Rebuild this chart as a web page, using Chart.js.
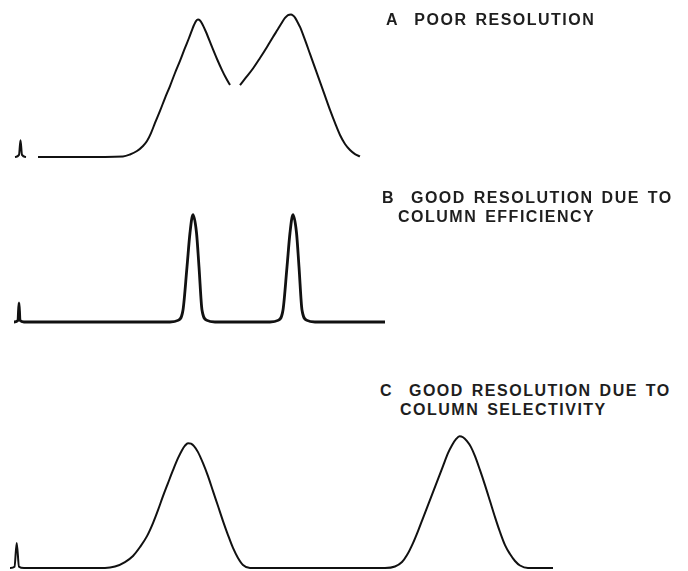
<!DOCTYPE html>
<html>
<head>
<meta charset="utf-8">
<script src="https://cdn.jsdelivr.net/npm/chart.js@4.4.1/dist/chart.umd.min.js"></script>
<style>
  html, body { margin: 0; padding: 0; background: #fff; }
  #wrap { position: relative; width: 688px; height: 571px; overflow: hidden; }
  canvas { position: absolute; left: 0; }
  .label {
    position: absolute;
    font-family: "Liberation Sans", Arial, sans-serif;
    font-weight: bold;
    font-size: 16px;
    letter-spacing: 1.5px;
    word-spacing: 2px;
    color: #1e1e1e;
    white-space: pre;
    line-height: 19px;
  }
</style>
</head>
<body>
<div id="wrap">
  <canvas id="chartA" width="688" height="160" style="top:3px"></canvas>
  <canvas id="chartB" width="688" height="122" style="top:204px"></canvas>
  <canvas id="chartC" width="688" height="148" style="top:423px"></canvas>

  <div class="label" style="left:386px; top:10px">A  POOR RESOLUTION</div>
  <div class="label" style="left:382px; top:188px">B  GOOD RESOLUTION DUE TO</div>
  <div class="label" style="left:398px; top:207px">COLUMN EFFICIENCY</div>
  <div class="label" style="left:380px; top:381px">C  GOOD RESOLUTION DUE TO</div>
  <div class="label" style="left:400px; top:400px">COLUMN SELECTIVITY</div>
</div>

<script>
// Retention time (arbitrary units) and detector signal (% of tallest peak)

// A - poor resolution (the trace breaks at the valley, as in the original)
const timeA = [1.5, 1.9, 2.05, 2.2, 2.6, 3.0,
  3.8, 8.0, 12.3, 13.0, 13.7, 14.3, 14.7, 15.1, 15.5, 16.0, 16.5, 17.0, 17.5, 18.0, 18.5, 18.9, 19.2, 19.4, 19.6, 19.8, 20.0, 20.2, 20.6, 21.2, 21.7, 22.2, 22.6, 23.0,
  23.5,
  24.0, 24.6, 25.3, 26.0, 26.7, 27.3, 27.8, 28.2, 28.5, 28.8, 29.1, 29.3, 29.5, 29.8, 30.0, 30.5, 31.0, 31.5, 32.0, 32.5, 33.0, 33.5, 34.0, 34.5, 35.0, 35.5, 36.0];
const signalA = [0, 1.5, 12, 1.5, 0, null,
  0, 0, 0.4, 1.8, 4.3, 7.9, 11.4, 17.1, 24.3, 32.9, 42.1, 50.7, 60.0, 68.6, 77.9, 85.0, 90.7, 94.3, 97.1, 98.2, 97.5, 95.4, 89.3, 78.6, 70.0, 62.1, 56.4, 51.4,
  null,
  51.4, 56.8, 63.2, 70.7, 78.6, 85.7, 91.4, 96.1, 99.3, 101.4, 101.8, 101.1, 99.6, 95.7, 92.9, 83.6, 73.6, 63.6, 53.6, 43.6, 33.6, 24.3, 15.7, 9.3, 5.0, 2.1, 0.4];

// B - good resolution due to column efficiency
const timeB = [1.4, 1.8, 1.9, 2.0, 2.4, 10, 17.0, 17.8, 18.3, 18.7, 19.0, 19.3, 19.65, 19.9, 20.2, 20.7, 21.5, 27.0, 27.8, 28.3, 28.7, 29.0, 29.3, 29.65, 29.9, 30.2, 30.7, 31.5, 38.5];
const signalB = [0, 1.5, 17.8, 1.5, 0, 0, 0, 1.5, 11.2, 51.4, 83.2, 100, 83.2, 51.4, 11.2, 1.5, 0, 0, 1.5, 11.2, 51.4, 83.2, 100, 83.2, 51.4, 11.2, 1.5, 0, 0];

// C - good resolution due to column selectivity
const timeC = [1.0, 1.45, 1.67, 1.9, 2.4, 8,
  10.5, 11.5, 12.5, 13.3, 14.0, 14.7, 15.3, 15.8, 16.3, 16.8, 17.3, 17.8, 18.2, 18.5, 18.8, 19.1, 19.4, 19.8, 20.3, 20.8, 21.3, 21.8, 22.3, 22.8, 23.3, 23.8, 24.3, 25.0,
  31,
  38.5, 39.5, 40.2, 40.7, 41.3, 41.8, 42.3, 42.8, 43.3, 43.8, 44.3, 44.8, 45.2, 45.6, 45.95, 46.3, 46.7, 47.1, 47.5, 48.0, 48.5, 49.0, 49.5, 50.0, 50.5, 51.0, 51.5, 52.0, 52.8,
  55.3];
const signalC = [0, 1, 19, 1, 0, 0,
  0, 1.1, 4.5, 9.1, 15.9, 24.2, 34.1, 43.9, 54.5, 64.4, 74.2, 83.3, 89.4, 92.8, 94.7, 94.3, 92.4, 87.9, 79.5, 69.7, 58.3, 47.0, 35.6, 25.0, 15.2, 7.6, 2.3, 0,
  0,
  0, 1.1, 4.5, 9.8, 18.9, 28.0, 37.9, 47.7, 57.6, 67.4, 77.3, 87.1, 93.2, 97.7, 100, 99.2, 96.2, 91.7, 84.8, 74.2, 62.9, 50.8, 38.6, 27.3, 17.4, 10.6, 5.3, 1.9, 0,
  0];

const timeMax = 68.8;
const signalMax = 110;

function toPoints(times, values) {
  return times.map((t, i) => ({ x: t, y: values[i] }));
}

function drawTrace(id, times, values, width, padBottom) {
  const ctx = document.getElementById(id).getContext('2d');
  return new Chart(ctx, {
    type: 'line',
    data: {
      datasets: [{
        data: toPoints(times, values),
        borderColor: '#111',
        borderWidth: width,
        pointRadius: 0,
        fill: false,
        spanGaps: false,
        cubicInterpolationMode: 'monotone',
        clip: false
      }]
    },
    options: {
      responsive: false,
      animation: false,
      layout: { padding: { left: 0, right: 0, top: 0, bottom: padBottom } },
      plugins: {
        legend: { display: false },
        tooltip: { enabled: false }
      },
      scales: {
        x: { type: 'linear', min: 0, max: timeMax, display: false },
        y: { min: 0, max: signalMax, display: false }
      }
    }
  });
}

drawTrace('chartA', timeA, signalA, 2, 6);
drawTrace('chartB', timeB, signalB, 2.8, 4);
drawTrace('chartC', timeC, signalC, 2, 3);
</script>
</body>
</html>
